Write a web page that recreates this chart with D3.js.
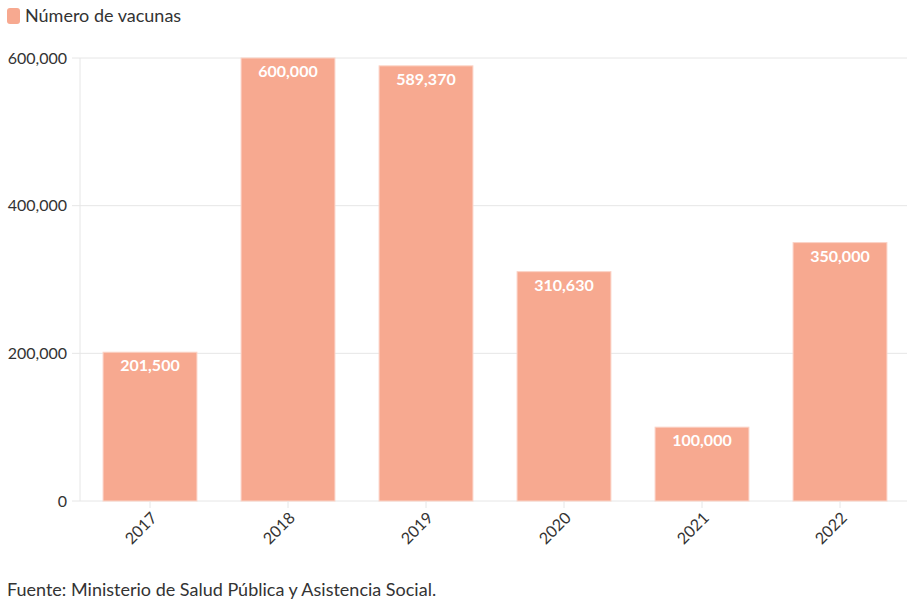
<!DOCTYPE html>
<html><head><meta charset="utf-8">
<script src="https://cdn.jsdelivr.net/npm/d3@7"></script>
<style>body{margin:0;background:#fff;font-family:"Source Sans Pro",Lato,"Noto Sans",sans-serif;}</style>
</head><body><svg id="c" width="907" height="613"></svg>
<script>
const years = ["2017","2018","2019","2020","2021","2022"];
const values = [201500, 600000, 589370, 310630, 100000, 350000];
const yTicks = [0, 200000, 400000, 600000];
const seriesName = "Número de vacunas";
const source = "Fuente: Ministerio de Salud Pública y Asistencia Social.";

const svg = d3.select("#c");
const color = "#f7a990";
const x = d3.scaleBand().domain(years).range([81, 909]).paddingInner(0.32).paddingOuter(0.16);
const y = d3.scaleLinear().domain([0, 600000]).range([501, 58]);
const fmt = d3.format(",");

// grid
svg.append("g").selectAll("line").data(yTicks).join("line")
  .attr("x1", 72).attr("x2", 907).attr("y1", d => y(d)).attr("y2", d => y(d))
  .attr("stroke", "#e6e6e6").attr("stroke-width", 1);
svg.append("line").attr("x1", 80).attr("x2", 80).attr("y1", 58).attr("y2", 501)
  .attr("stroke", "#e6e6e6");
// y labels
svg.append("g").selectAll("text").data(yTicks).join("text")
  .attr("x", 67).attr("y", d => y(d)).attr("dy", "0.35em").attr("text-anchor", "end")
  .attr("font-size", 16).attr("fill", "#333").text(d => fmt(d));
// bars
svg.append("g").selectAll("rect").data(values).join("rect")
  .attr("x", (d, i) => x(years[i])).attr("width", x.bandwidth())
  .attr("y", d => y(d)).attr("height", d => y(0) - y(d))
  .attr("fill", color).attr("stroke", "#fbd3c6").attr("stroke-width", 1);
// value labels
svg.append("g").selectAll("text").data(values).join("text")
  .attr("x", (d, i) => x(years[i]) + x.bandwidth() / 2).attr("y", d => y(d) + 19)
  .attr("text-anchor", "middle").attr("font-size", 16).attr("font-weight", "bold")
  .attr("fill", "#fff").text(d => fmt(d));
// x ticks
svg.append("g").selectAll("line").data(years).join("line")
  .attr("x1", d => x(d) + x.bandwidth() / 2).attr("x2", d => x(d) + x.bandwidth() / 2)
  .attr("y1", 501).attr("y2", 508).attr("stroke", "#e6e6e6");
svg.append("g").selectAll("text").data(years).join("text")
  .attr("transform", d => `translate(${x(d) + x.bandwidth() / 2 + 4},${515}) rotate(-45)`)
  .attr("text-anchor", "end").attr("dy", "0.35em")
  .attr("font-size", 16).attr("fill", "#333").text(d => d);
// legend
svg.append("rect").attr("x", 7).attr("y", 8).attr("width", 13).attr("height", 16).attr("rx", 3)
  .attr("fill", color);
svg.append("text").attr("x", 25).attr("y", 16).attr("dy", "0.35em").attr("font-size", 18)
  .attr("fill", "#333").text(seriesName);
// source
svg.append("text").attr("x", 7).attr("y", 590).attr("dy", "0.35em").attr("font-size", 18)
  .attr("fill", "#333").text(source);
</script></body></html>
